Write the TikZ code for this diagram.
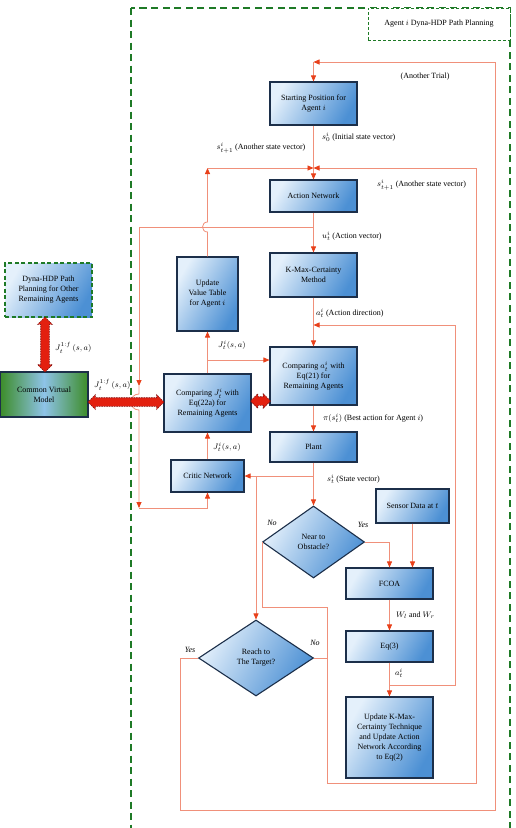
\documentclass[tikz,border=0pt]{standalone}
\usepackage{fontspec}
\setmainfont{Liberation Serif}
\usetikzlibrary{arrows.meta,shapes.geometric,shapes.arrows,calc}
\definecolor{boxlight}{HTML}{E4F0FB}
\definecolor{boxdark}{HTML}{4C90D4}
\definecolor{boxborder}{HTML}{1C2F4A}
\definecolor{linecol}{HTML}{F0907A}
\definecolor{arrowred}{HTML}{E8401A}
\definecolor{greendash}{HTML}{1E7A26}
\definecolor{thickred}{HTML}{E3200F}
\definecolor{thickdark}{HTML}{7A1010}
\definecolor{cvmgreen}{HTML}{3C8C28}
\definecolor{cvmblue}{HTML}{8EC3E8}
\begin{document}
\begin{tikzpicture}[x=1pt,y=-1pt,
  every node/.style={font=\fontsize{8}{10}\selectfont},
  box/.style={draw=boxborder, line width=1.1pt, left color=boxlight, right color=boxdark, shading angle=60, align=center, inner sep=1pt},
  decision/.style={diamond, draw=boxborder, line width=1.1pt, left color=boxlight, right color=boxdark, shading angle=60, align=center, inner sep=0pt},
  conn/.style={draw=linecol, line width=0.8pt},
  arr/.style={-{Triangle[width=5pt,length=6pt,color=arrowred]}},
  bigarrow/.style={double arrow, fill=thickred, draw=thickdark, dash pattern=on 1.5pt off 1pt, line width=0.6pt, double arrow head extend=3pt, double arrow head indent=0pt, inner xsep=0pt, inner ysep=4pt, text height=0pt, text depth=0pt},
  lbl/.style={inner sep=0pt, anchor=west},
  yn/.style={inner sep=0pt, font=\fontsize{8}{10}\selectfont\itshape}
]
\useasboundingbox (0,0) rectangle (516,828);
% outer frame
\draw[greendash, line width=1.6pt, dash pattern=on 7pt off 4.5pt] (131,8) rectangle (510,850);
\node[draw=greendash, line width=0.9pt, dash pattern=on 3pt off 2pt, fill=white, minimum width=142pt, minimum height=32pt, inner sep=0pt] (title) at (439,24) {Agent $i$ Dyna-HDP Path Planning};

% boxes
\node[box, minimum width=87pt, minimum height=43pt] (sp) at (313.5,103.5) {Starting Position for\\Agent $i$};
\node[box, minimum width=87pt, minimum height=32pt] (an) at (313.5,196) {Action Network};
\node[box, minimum width=87pt, minimum height=44pt] (km) at (313.5,275) {K-Max-Certainty\\Method};
\node[box, minimum width=87pt, minimum height=58pt] (ca) at (313.5,376) {Comparing $a_t^i$ with\\Eq(21) for\\Remaining Agents};
\node[box, minimum width=87pt, minimum height=30pt] (pl) at (313.5,447) {Plant};
\node[box, minimum width=61pt, minimum height=74pt] (uvt) at (207.5,294) {Update\\Value Table\\for Agent $i$};
\node[box, minimum width=87pt, minimum height=58pt] (cj) at (207.5,403) {Comparing $J_t^i$ with\\Eq(22a) for\\Remaining Agents};
\node[box, minimum width=73pt, minimum height=32pt] (cn) at (207.5,476) {Critic Network};
\node[box, minimum width=73pt, minimum height=34pt] (sd) at (412.5,506) {Sensor Data at $t$};
\node[box, minimum width=87pt, minimum height=31pt] (fc) at (389.5,583.5) {FCOA};
\node[box, minimum width=87pt, minimum height=31pt] (eq) at (389.5,646.5) {Eq(3)};
\node[box, minimum width=87pt, minimum height=81pt] (uk) at (389.5,737.5) {Update K-Max-\\Certainty Technique\\and Update Action\\Network According\\to Eq(2)};
\node[decision, minimum width=102pt, minimum height=72pt] (near) at (313.5,542) {Near to\\Obstacle?};
\node[decision, minimum width=115pt, minimum height=76pt] (reach) at (256,658) {Reach to\\The Target?};
\node[box, draw=greendash, line width=1.4pt, dash pattern=on 4pt off 2.5pt, minimum width=87pt, minimum height=54pt] (dyna) at (48.5,290) {Dyna-HDP Path\\Planning for Other\\Remaining Agents};
\node[draw=boxborder, line width=1.1pt, left color=cvmgreen, right color=cvmgreen, middle color=cvmblue, align=center, minimum width=88pt, minimum height=45pt, inner sep=1pt] (cvm) at (44,394.5) {Common Virtual\\Model};

% coordinates
\coordinate (tl) at (313.5,62);
\coordinate (jn) at (313.5,168);
\coordinate (jl) at (207.5,168);
\coordinate (jr) at (476,168);
\coordinate (b1) at (313.5,227);
\coordinate (b2) at (139,227);
\coordinate (b3) at (139,386);
\coordinate (b4) at (139,508);
\coordinate (j1) at (207.5,360);
\coordinate (p1) at (313.5,476);
\coordinate (p2) at (256,476);
\coordinate (e1) at (389.5,685);
\coordinate (e2) at (455,325);
\coordinate (e3) at (313.5,325);
\coordinate (n1) at (327,607);

% outer trial loop
\draw[conn,arr] (reach.west) -- (180,658) -- (180,810) -- (495,810) -- (495,62) -- (tl);
\draw[conn,arr] (tl) -- (sp.north);
\draw[conn,arr] (sp.south) -- (an.north);
% next state loop (right)
\draw[conn] (near.west) -- (near.west |- n1) -- (n1) -- (327,783) -- (476,783) -- (jr);
\draw[conn,arr] (jr) -- (jn);
\draw[conn] (reach.east) -- (reach.east -| n1);
% update value table to junction with hop
\draw[conn,arr] (uvt.north) -- (207.5,232) to[out=180,in=180,looseness=1.7] (207.5,222) -- (jl);
\draw[conn,arr] (jl) -- (jn);
% action network
\draw[conn,arr] (an.south) -- (km.north);
\draw[conn,arr] (b1) -- (b2) -- (b3);
\draw[conn,arr] (b3) -- (139,394) to[out=180,in=180,looseness=1.7] (139,410) -- (b4);
\draw[conn,arr] (b4) -| (cn.south);
\draw[conn,arr] (km.south) -- (ca.north);
\draw[conn,arr] (ca.south) -- (pl.north);
\draw[conn,arr] (pl.south) -- (near.north);
\draw[conn,arr] (p1) -- (cn.east);
\draw[conn,arr] (p2) -- (reach.north);
% critic side
\draw[conn,arr] (cn.north) -- (cj.south);
\draw[conn,arr] (cj.north) -- (uvt.south);
\draw[conn,arr] (j1) -- (j1 -| ca.west);
% obstacle branch
\draw[conn,arr] (near.east) -| (fc.north);
\draw[conn,arr] (sd.south) -- (sd.south |- fc.north);
\draw[conn,arr] (fc.south) -- (eq.north);
\draw[conn,arr] (eq.south) -- (uk.north);
\draw[conn] (e1) -- (e1 -| e2) -- (e2);
\draw[conn,arr] (e2) -- (e3);

% thick arrows
\node[bigarrow, minimum height=76pt] (ta1) at (126,402) {};
\node[bigarrow, minimum height=55pt, rotate=90] (ta2) at (45,344.5) {};
\node[bigarrow, minimum height=20pt] (ta3) at (260.5,401) {};

% labels
\node at (425,77) {(Another Trial)};
\node[lbl] at (322,137) {$s_0^i$ (Initial state vector)};
\node[inner sep=0pt] at (261,148) {$s_{t+1}^i$ (Another state vector)};
\node[lbl] at (377,185) {$s_{t+1}^i$ (Another state vector)};
\node[lbl] at (322,236) {$u_t^i$ (Action vector)};
\node[lbl] at (316,313) {$a_t^i$ (Action direction)};
\node[lbl] at (218,345) {$J_t^i(s,a)$};
\node[lbl] at (323,418) {$\pi(s_t^i)$ (Best action for Agent $i$)};
\node[lbl] at (327,479) {$s_t^i$ (State vector)};
\node[lbl] at (213,447) {$J_t^i(s,a)$};
\node[yn] at (272,523) {No};
\node[yn] at (363,525) {Yes};
\node[lbl] at (396,615) {$W_l$ and $W_r$};
\node[lbl] at (395,673) {$a_t^i$};
\node[yn] at (190,650) {Yes};
\node[yn] at (315,643) {No};
\node[lbl] at (55,348) {$J_t^{1:f}\,(s,a)$};
\node[lbl] at (94,385) {$J_t^{1:f}\,(s,a)$};
\end{tikzpicture}
\end{document}
